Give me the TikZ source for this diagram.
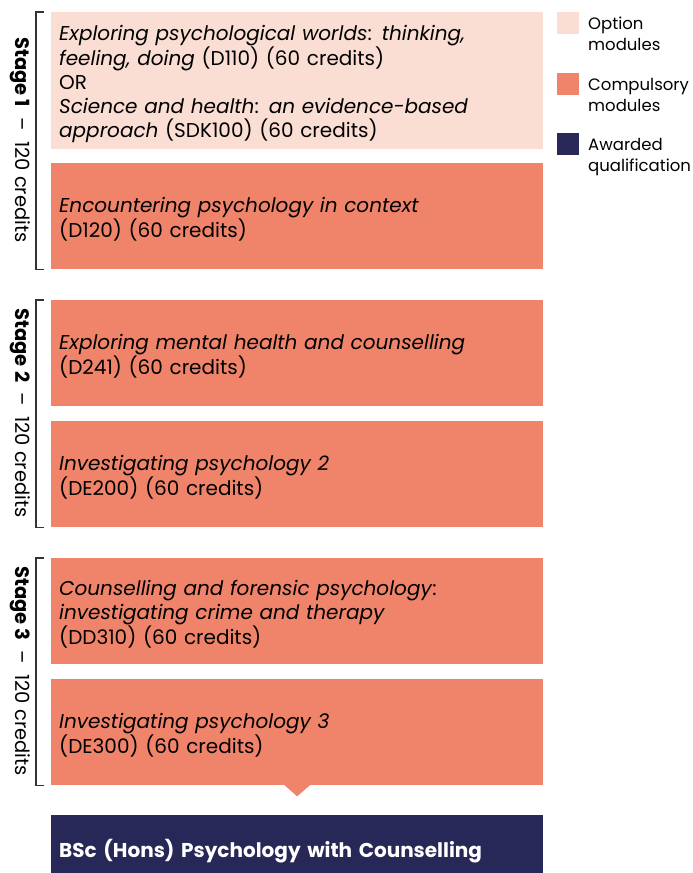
\documentclass[tikz,border=0pt]{standalone}
\usepackage{fontspec}
\setmainfont{Poppins}
\usepackage{tikz}
\usetikzlibrary{positioning,calc}
\definecolor{optioncol}{HTML}{FADED3}
\definecolor{compcol}{HTML}{F0846B}
\definecolor{awardcol}{HTML}{282858}
\newcommand{\topline}{\rule{0pt}{22pt}}

\begin{document}
\begin{tikzpicture}[x=1pt,y=-1pt,
    module/.style={anchor=north west, minimum height=106pt, text width=476pt,
        inner xsep=8pt, inner ysep=0pt, align=left, font=\fontsize{20}{24}\selectfont},
    optionbox/.style={module, fill=optioncol},
    compbox/.style={module, fill=compcol},
    awardbox/.style={anchor=north west, fill=awardcol, minimum height=58pt, text width=476pt,
        inner xsep=8pt, align=left, text=white, font=\fontsize{20}{22}\selectfont\bfseries},
    bracket/.style={draw=black!80, line width=1.2pt},
    stagelabel/.style={rotate=-90, font=\fontsize{19.5}{22}\selectfont},
    keybox/.style={minimum size=22pt, inner sep=0pt},
    keytext/.style={anchor=north west, align=left, inner sep=0pt, font=\fontsize{16.5}{21}\selectfont}
  ]
  \useasboundingbox (0,0) rectangle (693,873);

  % Stage 1
  \node[optionbox, minimum height=137pt] (m1) at (51,12)
    {\topline\textit{Exploring psychological worlds}: \textit{thinking,}\\
     \textit{feeling, doing} (D110) (60 credits)\\
     OR\\
     \textit{Science and health}: \textit{an evidence-based}\\
     \textit{approach} (SDK100) (60 credits)};
  \node[compbox] (m2) at (51,163)
    {\topline\textit{Encountering psychology in context}\\(D120) (60 credits)};

  % Stage 2
  \node[compbox] (m3) at (51,300)
    {\topline\textit{Exploring mental health and counselling}\\(D241) (60 credits)};
  \node[compbox] (m4) at (51,421)
    {\topline\textit{Investigating psychology 2}\\(DE200) (60 credits)};

  % Stage 3
  \node[compbox] (m5) at (51,558)
    {\topline\textit{Counselling and forensic psychology}:\\
     \textit{investigating crime and therapy}\\(DD310) (60 credits)};
  \node[compbox] (m6) at (51,679)
    {\topline\textit{Investigating psychology 3}\\(DE300) (60 credits)};

  % pointer to the award
  \fill[compcol] ($(m6.south)+(-13,-0.5)$) -- ($(m6.south)+(0,11)$) -- ($(m6.south)+(13,-0.5)$) -- cycle;

  % Award
  \node[awardbox] (award) at (51,815) {\raisebox{-13pt}[0pt][0pt]{BSc (Hons) Psychology with Counselling}};

  % Brackets and stage labels
  \draw[bracket] ($(m1.north west)+(-7,0)$) -| ($(m2.south west)+(-15,0)$) -- ($(m2.south west)+(-7,0)$);
  \draw[bracket] ($(m3.north west)+(-7,0)$) -| ($(m4.south west)+(-15,0)$) -- ($(m4.south west)+(-7,0)$);
  \draw[bracket] ($(m5.north west)+(-7,0)$) -| ($(m6.south west)+(-15,0)$) -- ($(m6.south west)+(-7,0)$);
  \node[stagelabel] (s1) at (20,140) {\textbf{Stage 1} \ – \ 120 credits};
  \node[stagelabel] (s2) at (20,413) {\textbf{Stage 2} \ – \ 120 credits};
  \node[stagelabel] (s3) at (20,671) {\textbf{Stage 3} \ – \ 120 credits};

  % Key
  \node[keybox, fill=optioncol] (k1) at (568,23) {};
  \node[keybox, fill=compcol] (k2) at (568,84) {};
  \node[keybox, fill=awardcol] (k3) at (568,144) {};
  \node[keytext] (t1) at (588,17) {Option\\modules};
  \node[keytext] (t2) at (588,78) {Compulsory\\modules};
  \node[keytext] (t3) at (588,138) {Awarded\\qualification};
\end{tikzpicture}
\end{document}
